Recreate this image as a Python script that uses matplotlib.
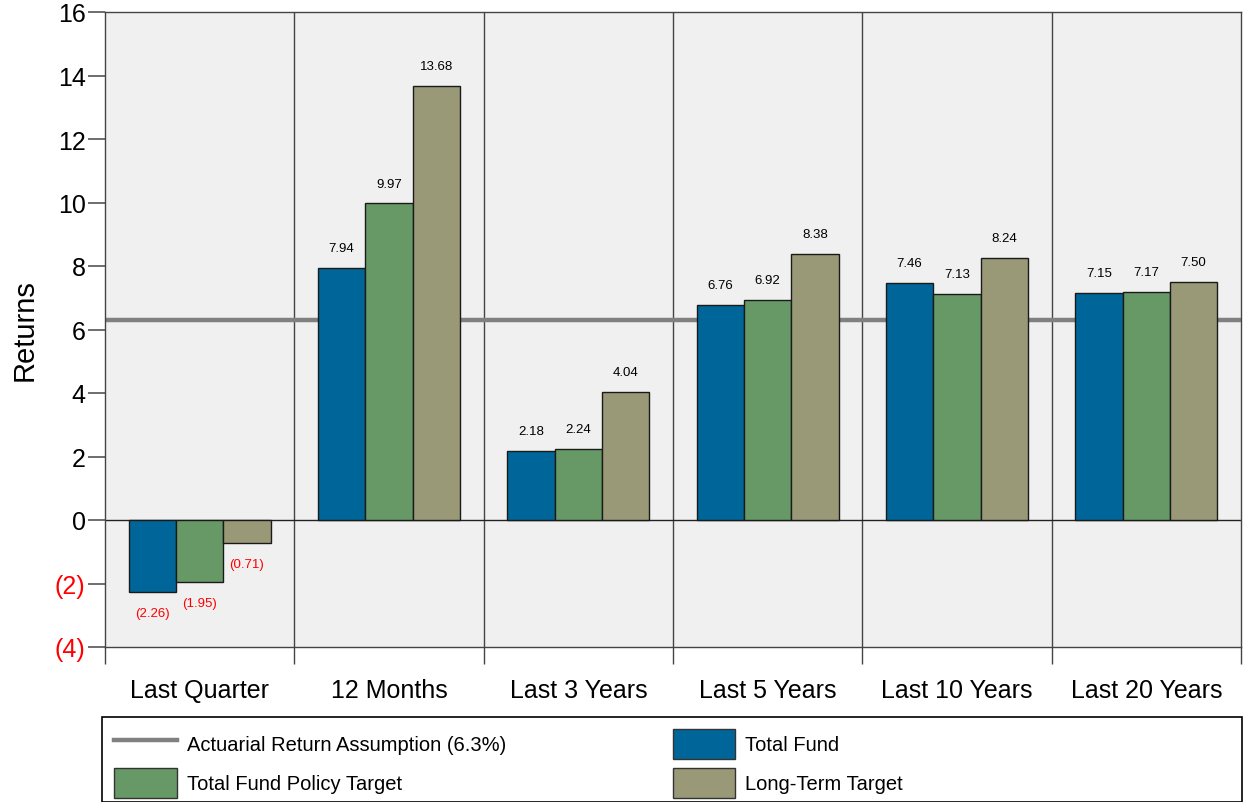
import matplotlib
matplotlib.use("Agg")
import matplotlib.pyplot as plt
import numpy as np
from matplotlib.patches import Patch, Rectangle
from matplotlib.lines import Line2D

plt.rcParams['font.family'] = ['Liberation Sans', 'DejaVu Sans']

periods = ["Last Quarter", "12 Months", "Last 3 Years", "Last 5 Years",
           "Last 10 Years", "Last 20 Years"]
total_fund = [-2.26, 7.94, 2.18, 6.76, 7.46, 7.15]
policy_target = [-1.95, 9.97, 2.24, 6.92, 7.13, 7.17]
long_term_target = [-0.71, 13.68, 4.04, 8.38, 8.24, 7.50]
actuarial_assumption = 6.3
y_ticks = [-4, -2, 0, 2, 4, 6, 8, 10, 12, 14, 16]

series = [
    ("Total Fund", total_fund, "#006699"),
    ("Total Fund Policy Target", policy_target, "#669966"),
    ("Long-Term Target", long_term_target, "#999977"),
]

W, H = 1247, 803
fig = plt.figure(figsize=(W / 100, H / 100), dpi=100)
ax = fig.add_axes([105 / W, 1 - 648 / H, 1136 / W, 635 / H])
ax.set_facecolor("#F0F0F0")

n = len(periods)
x = np.arange(n)
width = 0.25

ax.set_xlim(-0.5, n - 0.5)
ax.set_ylim(-4, 16)

# category separators
for b in np.arange(0.5, n - 0.5, 1.0):
    ax.axvline(b, color="#444444", lw=1.0, zorder=1)

# zero line
ax.axhline(0, color="#222222", lw=1.0, zorder=2)

# actuarial assumption line
ax.axhline(actuarial_assumption, color="#808080", lw=3.2, zorder=2)

for i, (name, vals, color) in enumerate(series):
    pos = x + (i - 1) * width
    ax.bar(pos, vals, width, color=color, edgecolor="#1a1a1a", lw=1.0, zorder=3)
    for xp, v in zip(pos, vals):
        if v >= 0:
            ax.annotate(f"{v:.2f}", (xp, v), xytext=(0, 10), textcoords="offset points",
                        ha="center", va="bottom", fontsize=9.5, color="black")
        else:
            ax.annotate(f"({abs(v):.2f})", (xp, v), xytext=(0, -11), textcoords="offset points",
                        ha="center", va="top", fontsize=9.5, color="red")

# y axis
ax.set_yticks(y_ticks)
labels = [f"({abs(t)})" if t < 0 else f"{t}" for t in y_ticks]
ax.set_yticklabels(labels, fontsize=18)
for t, lab in zip(y_ticks, ax.get_yticklabels()):
    if t < 0:
        lab.set_color("red")
ax.tick_params(axis="y", direction="out", length=12, width=1.2, color="#555555", pad=2)
ax.set_ylabel("Returns", fontsize=21, labelpad=12)

# x axis: labels centered, ticks at boundaries
ax.set_xticks(x)
ax.set_xticklabels(periods, fontsize=18)
ax.tick_params(axis="x", length=0, pad=22)
ax.set_xticks(np.arange(-0.5, n, 1.0), minor=True)
ax.tick_params(axis="x", which="minor", direction="out", length=12, width=1.0, color="#444444")

for s in ax.spines.values():
    s.set_color("#444444")
    s.set_linewidth(1.0)

# legend box
fig.patches.append(Rectangle((102 / W, 0), 1140 / W, 1 - 718 / H, transform=fig.transFigure,
                             facecolor="white", edgecolor="black", lw=1.2, zorder=0))

handles = [
    Line2D([0], [0], color="#808080", lw=3.2),
    Patch(facecolor="#669966", edgecolor="#333333"),
    Patch(facecolor="#006699", edgecolor="#333333"),
    Patch(facecolor="#999977", edgecolor="#333333"),
]
leg_labels = ["Actuarial Return Assumption (6.3%)", "Total Fund Policy Target",
              "Total Fund", "Long-Term Target"]
leg = fig.legend(handles, leg_labels, ncol=2, loc="upper left",
                 bbox_to_anchor=(102 / W, 1 - 718 / H), borderaxespad=0,
                 fontsize=14.5, frameon=False,
                 handlelength=3.1, handleheight=1.9, labelspacing=0.45,
                 columnspacing=8.3, handletextpad=0.5, borderpad=0.6)

fig.savefig("out.png", dpi=100)
